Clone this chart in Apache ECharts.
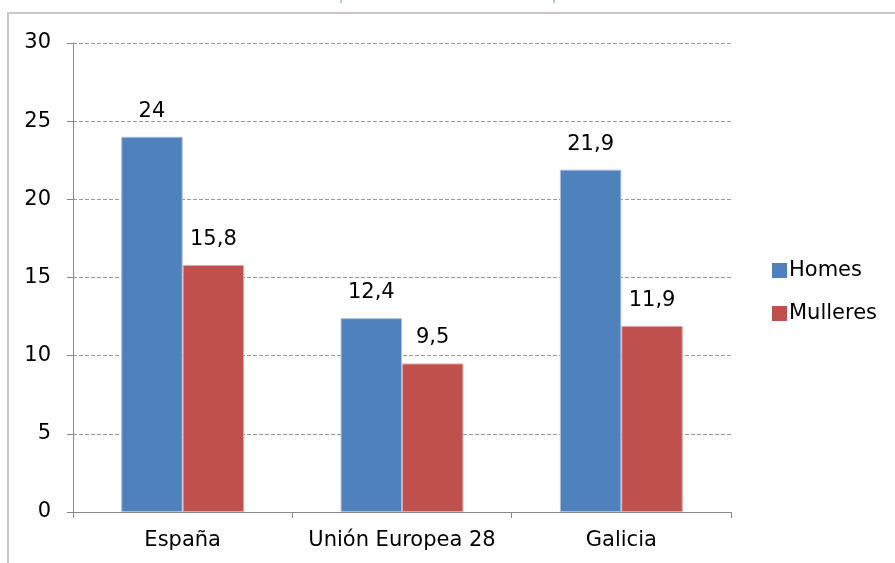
<!DOCTYPE html>
<html><head><meta charset="utf-8">
<script src="https://cdn.jsdelivr.net/npm/echarts@6/dist/echarts.min.js"></script>
<style>html,body{margin:0;padding:0;background:#fff}#c{width:895px;height:563px}</style>
</head><body><div id="c"></div>
<script>
var categories = ['España', 'Unión Europea 28', 'Galicia'];
var homes = [24, 12.4, 21.9];
var mulleres = [15.8, 9.5, 11.9];
var seriesNames = ['Homes', 'Mulleres'];

var chart = echarts.init(document.getElementById('c'));
var fmt = function (p) { return String(p.value).replace('.', ','); };
var font = 'DejaVu Sans, Arial, sans-serif';
chart.setOption({
  animation: false,
  textStyle: { fontFamily: font },
  graphic: [
    { type: 'polyline', shape: { points: [[8, 563], [8, 13], [895, 13]] }, style: { stroke: '#c8c8c8', lineWidth: 2, fill: null } },
    { type: 'line', shape: { x1: 341, y1: 0, x2: 341, y2: 3 }, style: { stroke: '#5b9bd5', lineWidth: 1 } },
    { type: 'line', shape: { x1: 554, y1: 0, x2: 554, y2: 3 }, style: { stroke: '#5b9bd5', lineWidth: 1 } }
  ],
  grid: { left: 73, top: 43, width: 658, height: 469, containLabel: false },
  legend: {
    orient: 'vertical', left: 772, top: 260, padding: 0, itemWidth: 15, itemHeight: 15, itemGap: 22,
    icon: 'rect', itemStyle: { borderWidth: 0 },
    textStyle: { fontSize: 21, color: '#000', fontFamily: font, padding: [0, 0, 0, -3] },
    data: seriesNames
  },
  xAxis: {
    type: 'category', data: categories,
    axisLine: { lineStyle: { color: '#888', width: 1 } },
    axisTick: { show: true, length: 6, lineStyle: { color: '#888' } },
    axisLabel: { fontSize: 21, color: '#000', margin: 18, interval: 0, fontFamily: font }
  },
  yAxis: {
    type: 'value', min: 0, max: 30, interval: 5,
    axisLine: { show: true, lineStyle: { color: '#888' } },
    axisTick: { show: true, length: 6, lineStyle: { color: '#888' } },
    splitLine: { lineStyle: { color: '#999', type: [4, 2], width: 1 } },
    axisLabel: { fontSize: 21, color: '#000', margin: 22, fontFamily: font }
  },
  series: [
    { name: seriesNames[0], type: 'bar', data: homes, barGap: '0%', barCategoryGap: '44%',
      itemStyle: { color: '#4f81bd', borderColor: '#a7bfe0', borderWidth: 1 },
      label: { show: true, position: 'top', fontSize: 21, color: '#000', distance: 15, formatter: fmt, fontFamily: font } },
    { name: seriesNames[1], type: 'bar', data: mulleres, barGap: '0%', barCategoryGap: '44%',
      itemStyle: { color: '#c0504d', borderColor: '#e2a6a4', borderWidth: 1 },
      label: { show: true, position: 'top', fontSize: 21, color: '#000', distance: 15, formatter: fmt, fontFamily: font } }
  ]
});
</script></body></html>
